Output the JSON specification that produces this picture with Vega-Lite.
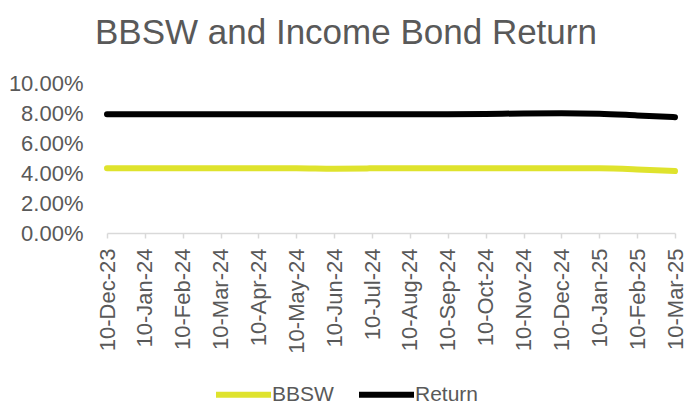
{
  "$schema": "https://vega.github.io/schema/vega-lite/v6.json",
  "autosize": "none",
  "width": 568,
  "height": 150,
  "padding": {"left": 107, "top": 83, "right": 9, "bottom": 170},
  "title": {
    "text": "BBSW and Income Bond Return",
    "font": "Liberation Sans",
    "fontSize": 35,
    "fontWeight": "normal",
    "color": "#595959",
    "anchor": "start",
    "frame": "group",
    "baseline": "alphabetic",
    "dx": -12,
    "offset": -7
  },
  "data": {
    "values": [
      {"date": "10-Dec-23", "series": "BBSW", "value": 0.0431},
      {"date": "10-Jan-24", "series": "BBSW", "value": 0.0432},
      {"date": "10-Feb-24", "series": "BBSW", "value": 0.0432},
      {"date": "10-Mar-24", "series": "BBSW", "value": 0.0432},
      {"date": "10-Apr-24", "series": "BBSW", "value": 0.0432},
      {"date": "10-May-24", "series": "BBSW", "value": 0.0432},
      {"date": "10-Jun-24", "series": "BBSW", "value": 0.0429},
      {"date": "10-Jul-24", "series": "BBSW", "value": 0.0431},
      {"date": "10-Aug-24", "series": "BBSW", "value": 0.0432},
      {"date": "10-Sep-24", "series": "BBSW", "value": 0.0432},
      {"date": "10-Oct-24", "series": "BBSW", "value": 0.0432},
      {"date": "10-Nov-24", "series": "BBSW", "value": 0.0432},
      {"date": "10-Dec-24", "series": "BBSW", "value": 0.0432},
      {"date": "10-Jan-25", "series": "BBSW", "value": 0.0431},
      {"date": "10-Feb-25", "series": "BBSW", "value": 0.0424},
      {"date": "10-Mar-25", "series": "BBSW", "value": 0.0413},
      {"date": "10-Dec-23", "series": "Return", "value": 0.0792},
      {"date": "10-Jan-24", "series": "Return", "value": 0.0792},
      {"date": "10-Feb-24", "series": "Return", "value": 0.0792},
      {"date": "10-Mar-24", "series": "Return", "value": 0.0792},
      {"date": "10-Apr-24", "series": "Return", "value": 0.0792},
      {"date": "10-May-24", "series": "Return", "value": 0.0792},
      {"date": "10-Jun-24", "series": "Return", "value": 0.0792},
      {"date": "10-Jul-24", "series": "Return", "value": 0.0792},
      {"date": "10-Aug-24", "series": "Return", "value": 0.0792},
      {"date": "10-Sep-24", "series": "Return", "value": 0.0792},
      {"date": "10-Oct-24", "series": "Return", "value": 0.0794},
      {"date": "10-Nov-24", "series": "Return", "value": 0.0797},
      {"date": "10-Dec-24", "series": "Return", "value": 0.0798},
      {"date": "10-Jan-25", "series": "Return", "value": 0.0795},
      {"date": "10-Feb-25", "series": "Return", "value": 0.0784},
      {"date": "10-Mar-25", "series": "Return", "value": 0.0772}
    ]
  },
  "mark": {"type": "line", "strokeWidth": 6, "strokeCap": "round", "interpolate": "monotone"},
  "encoding": {
    "x": {
      "field": "date",
      "type": "ordinal",
      "sort": null,
      "scale": {"type": "point", "padding": 0},
      "axis": {
        "title": null,
        "labelAngle": -90,
        "labelAlign": "right",
        "labelBaseline": "middle",
        "labelFont": "Liberation Sans",
        "labelFontSize": 22,
        "labelColor": "#595959",
        "labelPadding": 10,
        "domainColor": "#d9d9d9",
        "domainWidth": 1.5,
        "tickColor": "#d9d9d9",
        "tickWidth": 1.5,
        "tickSize": 5,
        "grid": false
      }
    },
    "y": {
      "field": "value",
      "type": "quantitative",
      "scale": {"domain": [0, 0.1], "nice": false, "zero": true},
      "axis": {
        "title": null,
        "format": ".2%",
        "values": [0, 0.02, 0.04, 0.06, 0.08, 0.1],
        "labelFont": "Liberation Sans",
        "labelFontSize": 22,
        "labelColor": "#595959",
        "labelPadding": 24,
        "ticks": false,
        "tickSize": 0,
        "domain": false,
        "grid": false
      }
    },
    "color": {
      "field": "series",
      "type": "nominal",
      "scale": {"domain": ["BBSW", "Return"], "range": ["#dfe32d", "#000000"]},
      "legend": {
        "title": null,
        "orient": "none",
        "direction": "horizontal",
        "legendX": 106,
        "legendY": 281,
        "symbolType": "stroke",
        "symbolSize": 3025,
        "symbolStrokeWidth": 6,
        "labelFont": "Liberation Sans",
        "labelFontSize": 21,
        "labelColor": "#595959",
        "labelOffset": -2,
        "columnPadding": 13,
        "padding": 0
      }
    }
  },
  "config": {"view": {"stroke": null}, "background": "white"}
}
